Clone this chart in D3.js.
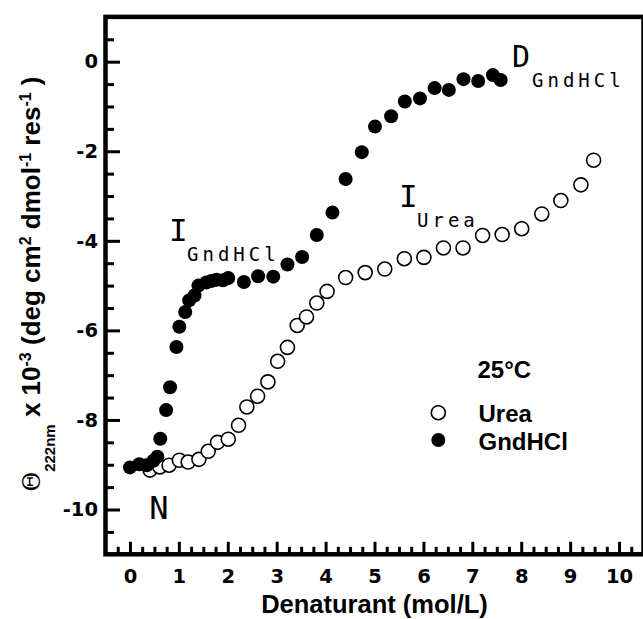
<!DOCTYPE html>
<html>
<head>
<meta charset="utf-8">
<script src="https://cdn.jsdelivr.net/npm/d3@7"></script>
<style>
html,body{margin:0;padding:0;background:#fff;}
svg{display:block;}
</style>
</head>
<body>
<svg id="chart" width="643" height="619"></svg>
<script>
// ---- data ----
const gndX = [0, 0.19, 0.34, 0.48, 0.56, 0.62, 0.74, 0.82, 0.95, 1.01, 1.13, 1.21, 1.32, 1.40, 1.56, 1.66, 1.77, 1.90, 2.01, 2.33, 2.62, 2.93, 3.22, 3.52, 3.82, 4.14, 4.41, 4.74, 5.01, 5.34, 5.62, 5.93, 6.23, 6.52, 6.82, 7.12, 7.42, 7.58];
const gndY = [-9.06, -8.99, -9.01, -8.91, -8.82, -8.42, -7.78, -7.27, -6.37, -5.92, -5.59, -5.33, -5.22, -5.00, -4.93, -4.90, -4.87, -4.88, -4.83, -4.92, -4.79, -4.80, -4.53, -4.36, -3.87, -3.37, -2.62, -2.02, -1.45, -1.22, -0.89, -0.82, -0.59, -0.63, -0.39, -0.43, -0.30, -0.41];
const ureaX = [0.41, 0.61, 0.80, 1.01, 1.19, 1.41, 1.60, 1.79, 2.01, 2.22, 2.39, 2.61, 2.82, 3.02, 3.22, 3.42, 3.61, 3.82, 4.03, 4.41, 4.81, 5.21, 5.61, 6.01, 6.41, 6.81, 7.21, 7.61, 8.01, 8.42, 8.81, 9.22, 9.48];
const ureaY = [-9.12, -9.05, -9.01, -8.90, -8.94, -8.88, -8.70, -8.50, -8.43, -8.12, -7.71, -7.47, -7.15, -6.69, -6.38, -5.89, -5.70, -5.39, -5.13, -4.82, -4.71, -4.63, -4.40, -4.37, -4.16, -4.16, -3.88, -3.86, -3.73, -3.40, -3.10, -2.75, -2.20];
const xMajor = [0,1,2,3,4,5,6,7,8,9,10];
const yMajor = [0,-2,-4,-6,-8,-10];
const legendLabels = ["Urea", "GndHCl"];
const legendTitle = "25°C";
const xTitle = "Denaturant (mol/L)";

// ---- layout ----
const svg = d3.select("#chart");
const L = 105.5, R = 643.5, T = 16.9, B = 554.3;
const x = d3.scaleLinear().domain([-0.5, 10.5]).range([L, R]);
const y = d3.scaleLinear().domain([-11, 1]).range([B, T]);
const tickFont = "'DejaVu Sans', sans-serif";
const boldFont = "'Liberation Sans', Arial, sans-serif";
const monoFont = "'DejaVu Sans Mono', monospace";
const R_PT = 7;

// minor ticks
const xMinor = d3.range(-0.25, 10.5, 0.25).filter(v => Math.abs(v - Math.round(v)) > 1e-6);
const yMinor = d3.range(-10.5, 1, 0.5).filter(v => Math.abs(v/2 - Math.round(v/2)) > 1e-6);

function styleAxis(g){
  g.select(".domain").remove();
  g.selectAll(".tick line").attr("stroke", "#000").attr("stroke-width", 3);
}

svg.append("g").attr("transform", `translate(0,${B})`)
  .call(d3.axisBottom(x).tickValues(xMinor).tickSize(-7.5).tickFormat(""))
  .call(styleAxis);
const gx = svg.append("g").attr("transform", `translate(0,${B})`)
  .call(d3.axisBottom(x).tickValues(xMajor).tickSize(-12.5).tickPadding(14.5).tickFormat(d => String(d)))
  .call(styleAxis);
gx.selectAll("text").attr("font-family", tickFont).attr("font-weight", "bold").attr("font-size", 19.5).attr("fill", "#000");

svg.append("g").attr("transform", `translate(${L},0)`)
  .call(d3.axisLeft(y).tickValues(yMinor).tickSize(-8.5).tickFormat(""))
  .call(styleAxis);
const gy = svg.append("g").attr("transform", `translate(${L},0)`)
  .call(d3.axisLeft(y).tickValues(yMajor).tickSize(-14.5).tickPadding(7.5).tickFormat(d => String(d)))
  .call(styleAxis);
gy.selectAll("text").attr("font-family", tickFont).attr("font-weight", "bold").attr("font-size", 19.5).attr("fill", "#000");

// frame
svg.append("rect").attr("x", L).attr("y", T).attr("width", R - L).attr("height", B - T)
  .attr("fill", "none").attr("stroke", "#000").attr("stroke-width", 4.5);

// data
const urea = ureaX.map((v, i) => ({x: v, y: ureaY[i]}));
const gnd = gndX.map((v, i) => ({x: v, y: gndY[i]}));
svg.append("g").selectAll("circle").data(urea).join("circle")
  .attr("cx", d => x(d.x)).attr("cy", d => y(d.y)).attr("r", R_PT)
  .attr("fill", "#fff").attr("stroke", "#000").attr("stroke-width", 1.6);
svg.append("g").selectAll("circle").data(gnd).join("circle")
  .attr("cx", d => x(d.x)).attr("cy", d => y(d.y)).attr("r", R_PT)
  .attr("fill", "#000");

// annotations
function mono(txt, px, py, size, anchor, spacing){
  svg.append("text").attr("x", px).attr("y", py).attr("font-family", monoFont)
    .attr("font-size", size).attr("text-anchor", anchor || "start")
    .attr("letter-spacing", spacing || 0).attr("fill", "#000").text(txt);
}
mono("I", 178.3, 240.7, 31, "middle");
mono("GndHCl", 187, 260.7, 19, "start", 4);
mono("D", 512, 66.7, 30, "start");
mono("GndHCl", 532, 86.7, 19, "start", 4);
mono("I", 408.3, 206.7, 31, "middle");
mono("Urea", 417, 226.7, 19, "start", 4);
mono("N", 158.8, 518.5, 32, "middle");

// legend
svg.append("text").attr("x", 477.5).attr("y", 378.3).attr("font-family", boldFont)
  .attr("font-weight", "bold").attr("font-size", 24).attr("fill", "#000").text(legendTitle);
const leg = svg.append("g");
legendLabels.forEach((lab, i) => {
  const cy = [412.7, 440][i];
  leg.append("circle").attr("cx", 438.3).attr("cy", cy).attr("r", R_PT)
    .attr("fill", i === 0 ? "#fff" : "#000").attr("stroke", "#000").attr("stroke-width", i === 0 ? 1.6 : 0);
  leg.append("text").attr("x", 478.5).attr("y", cy + 9.5).attr("font-family", boldFont)
    .attr("font-weight", "bold").attr("font-size", 24).attr("fill", "#000").text(lab);
});

// axis titles
svg.append("text").attr("x", 374.5).attr("y", 613).attr("text-anchor", "middle")
  .attr("font-family", boldFont).attr("font-weight", "bold").attr("font-size", 25.5)
  .attr("fill", "#000").text(xTitle);

const yt = svg.append("text").attr("transform", "translate(40,284) rotate(-90)")
  .attr("text-anchor", "middle").attr("font-family", boldFont).attr("font-weight", "bold")
  .attr("font-size", 26).attr("fill", "#000");
yt.append("tspan").attr("font-family", "'DejaVu Serif', serif").attr("font-weight", "normal").attr("font-size", 24).text("Θ");
yt.append("tspan").attr("font-size", 15).attr("dy", 15).attr("font-family", "'Liberation Sans Narrow', 'Liberation Sans', sans-serif").text("222nm");
yt.append("tspan").attr("dy", -15).text(" x 10");
yt.append("tspan").attr("font-size", 16).attr("dy", -9).text("-3");
yt.append("tspan").attr("dy", 9).text(" (deg cm");
yt.append("tspan").attr("font-size", 16).attr("dy", -9).text("2");
yt.append("tspan").attr("dy", 9).text(" dmol");
yt.append("tspan").attr("font-size", 16).attr("dy", -9).text("-1");
yt.append("tspan").attr("dy", 9).text(" res");
yt.append("tspan").attr("font-size", 16).attr("dy", -9).text("-1");
yt.append("tspan").attr("dy", 9).text(" )");
</script>
</body>
</html>
